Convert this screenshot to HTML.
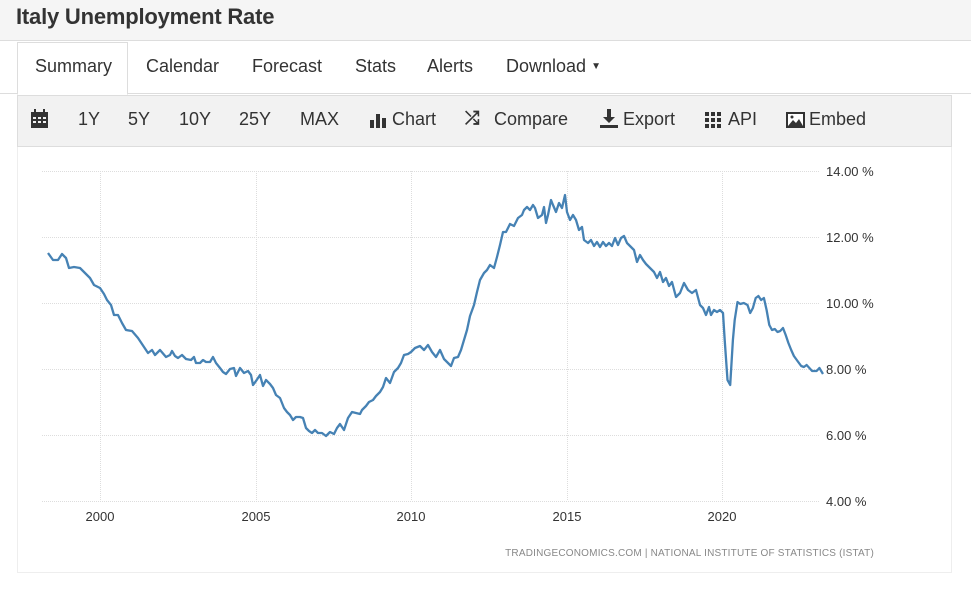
<!DOCTYPE html>
<html><head><meta charset="utf-8"><style>
*{margin:0;padding:0;box-sizing:border-box}
body{width:971px;height:616px;background:#fff;font-family:"Liberation Sans",sans-serif;position:relative;overflow:hidden}
.hdr{position:absolute;left:0;top:0;width:971px;height:41px;background:#f5f5f5;border-bottom:1px solid #ddd}
.hdr h1{position:absolute;left:16px;top:4px;font-size:22px;font-weight:bold;color:#333;letter-spacing:-0.2px}
.tabs{position:absolute;left:0;top:42px;width:971px;height:52px;border-bottom:1px solid #ddd}
.tab{position:absolute;top:14px;font-size:18px;color:#333}
.sum{position:absolute;left:17px;top:0;width:111px;height:53px;border:1px solid #ddd;border-bottom:1px solid #fff;background:#fff}
.tb{position:absolute;left:17px;top:95px;width:935px;height:52px;background:#f2f2f2;border:1px solid #ddd}
.tb span{position:absolute;top:13px;font-size:18px;color:#333}
.panel{position:absolute;left:17px;top:147px;width:935px;height:426px;border:1px solid #eee;border-top:none}
</style></head><body>
<div class="hdr"><h1>Italy Unemployment Rate</h1></div>
<div class="tabs">
<div class="sum"></div>
<div class="tab" style="left:35px">Summary</div>
<div class="tab" style="left:146px">Calendar</div>
<div class="tab" style="left:252px">Forecast</div>
<div class="tab" style="left:355px">Stats</div>
<div class="tab" style="left:427px">Alerts</div>
<div class="tab" style="left:506px">Download <span style="font-size:10px;position:relative;top:-3px">▼</span></div>
</div>
<div class="tb">
<span style="left:13px;top:13px"><svg width="17" height="19"><rect x="0" y="3" width="17" height="16" fill="#333"/><rect x="3" y="0" width="2" height="4" fill="#333"/><rect x="12" y="0" width="2" height="4" fill="#333"/><g fill="#f2f2f2"><rect x="2" y="8" width="3" height="2"/><rect x="7" y="8" width="3" height="2"/><rect x="12" y="8" width="3" height="2"/><rect x="2" y="12" width="3" height="2"/><rect x="7" y="12" width="3" height="2"/><rect x="12" y="12" width="3" height="2"/></g></svg></span>
<span style="left:60px">1Y</span><span style="left:110px">5Y</span><span style="left:161px">10Y</span><span style="left:221px">25Y</span><span style="left:282px">MAX</span>
<span style="left:352px;top:16px"><svg width="18" height="16"><rect x="0" y="8" width="4" height="8" fill="#333"/><rect x="6" y="2" width="4" height="14" fill="#333"/><rect x="12" y="6" width="4" height="10" fill="#333"/></svg></span><span style="left:374px">Chart</span>
<span style="left:447px;font-weight:bold;top:12px">⤮</span><span style="left:476px">Compare</span>
<span style="left:582px;top:13px"><svg width="18" height="19"><path d="M7 0h4v8h4l-6 6-6-6h4z M0 16h18v3H0z" fill="#333"/></svg></span><span style="left:605px">Export</span>
<span style="left:687px;top:16px"><svg width="16" height="16" fill="#333"><rect x="0" y="0" width="4" height="4"/><rect x="6" y="0" width="4" height="4"/><rect x="12" y="0" width="4" height="4"/><rect x="0" y="6" width="4" height="4"/><rect x="6" y="6" width="4" height="4"/><rect x="12" y="6" width="4" height="4"/><rect x="0" y="12" width="4" height="4"/><rect x="6" y="12" width="4" height="4"/><rect x="12" y="12" width="4" height="4"/></svg></span><span style="left:710px">API</span>
<span style="left:768px;top:16px"><svg width="19" height="16"><rect x="0" y="0" width="19" height="16" fill="#333"/><rect x="2" y="2" width="15" height="12" fill="#fff"/><path d="M2 14l5-6 3 3 3-4 4 7z" fill="#333"/><circle cx="6" cy="5" r="1.5" fill="#333"/></svg></span><span style="left:791px">Embed</span>
</div>
<div class="panel"></div>
<svg style="position:absolute;left:0;top:0" width="971" height="616">
<g stroke="#ddd" stroke-dasharray="1,1" stroke-width="1">
<line x1="42" y1="171.5" x2="820" y2="171.5"/><line x1="42" y1="237.5" x2="820" y2="237.5"/><line x1="42" y1="303.5" x2="820" y2="303.5"/><line x1="42" y1="369.5" x2="820" y2="369.5"/><line x1="42" y1="435.5" x2="820" y2="435.5"/><line x1="42" y1="501.5" x2="820" y2="501.5"/>
<line x1="100.5" y1="171" x2="100.5" y2="501"/><line x1="256.5" y1="171" x2="256.5" y2="501"/><line x1="411.5" y1="171" x2="411.5" y2="501"/><line x1="567.5" y1="171" x2="567.5" y2="501"/><line x1="722.5" y1="171" x2="722.5" y2="501"/>
</g>
<polyline fill="none" stroke="#4682b4" stroke-width="2.3" stroke-linejoin="round" points="48,253 53,260 58,260 62,254 66,258 69,268 74,267 80,268 85,273 90,278 94,285 100,288 104,294 107,300 111,305 114,315 118,315 122,323 126,330 132,331 138,338 144,347 148,353 152,350 155,355 160,350 166,357 170,355 172,351 175,356 178,358 182,355 186,359 191,360 194,357 196,363 200,363 203,360 206,362 210,362 213,357 216,363 220,368 223,372 226,374 230,369 234,368 236,376 240,368 244,373 248,371 251,375 253,385 256,381 260,375 263,386 266,380 270,384 273,388 276,395 280,398 284,408 287,412 290,415 293,420 296,417 300,417 303,418 306,428 309,431 312,433 315,430 318,433 322,433 326,436 330,432 334,434 337,428 340,424 344,430 348,418 352,412 356,413 360,414 362,410 366,406 369,402 373,400 376,396 380,392 383,387 386,378 390,383 394,372 398,368 401,363 404,355 408,354 411,352 415,348 420,346 424,350 428,345 432,352 436,357 440,350 444,359 447,362 451,366 454,358 458,357 461,350 464,340 467,330 470,316 474,305 477,292 480,280 484,273 487,270 490,265 494,268 497,257 500,245 503,232 506,232 510,224 514,226 518,218 522,215 524,210 527,207 530,210 533,205 535,208 538,218 542,215 544,207 546,223 548,215 551,200 553,205 556,212 559,203 562,208 565,195 567,212 570,220 573,215 576,220 579,230 582,227 584,240 588,243 591,240 594,246 597,242 600,247 603,242 606,246 609,243 612,246 615,238 618,245 621,238 624,236 627,243 630,246 634,250 637,262 640,255 643,260 646,264 650,268 654,272 657,278 660,272 663,282 666,278 669,286 672,282 676,297 680,293 684,283 688,290 692,293 696,290 700,305 703,308 706,315 709,307 711,315 714,310 717,312 720,310 723,313 724.7,340 727.5,380 730.2,385 732.9,340 734.7,320 737.5,302 740.2,304 743.8,303 747.5,305 750.2,313 752.9,308 755.7,298 758.4,296 761.1,300 763.9,298 766.6,310 769.3,325 772,330 774.8,329 777.5,332 780.2,331 783,328 785.7,335 788.4,343 791.2,350 793.9,356 797.5,361 801.2,366 803.9,367 806.6,365 809.4,368 812.1,371 816.6,371 819.4,368 823,374"/>
<g font-family="Liberation Sans,sans-serif" font-size="13" fill="#333">
<text x="826" y="176">14.00 %</text><text x="826" y="242">12.00 %</text><text x="826" y="308">10.00 %</text><text x="826" y="374">8.00 %</text><text x="826" y="440">6.00 %</text><text x="826" y="506">4.00 %</text>
<g text-anchor="middle"><text x="100" y="521">2000</text><text x="256" y="521">2005</text><text x="411" y="521">2010</text><text x="567" y="521">2015</text><text x="722" y="521">2020</text></g>
<text x="874" y="556" font-size="10" fill="#888" text-anchor="end" letter-spacing="0.2">TRADINGECONOMICS.COM  |  NATIONAL  INSTITUTE  OF  STATISTICS  (ISTAT)</text>
</g>
</svg>
</body></html>
